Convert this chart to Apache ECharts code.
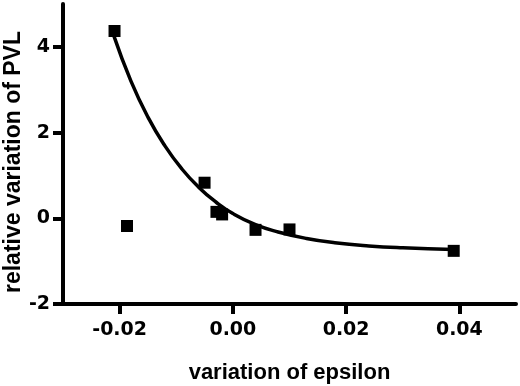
<!DOCTYPE html>
<html>
<head>
<meta charset="utf-8">
<script src="https://cdn.jsdelivr.net/npm/echarts@6/dist/echarts.min.js"></script>
<style>
    html, body { margin: 0; padding: 0; background: #fff; }
    #chart { width: 520px; height: 386px; }
</style>
</head>
<body>
<div id="chart"></div>
<script>
// measured points
var pointX = [-0.0209, -0.0187, -0.0050, -0.0029, -0.0019, 0.0040, 0.0100, 0.0390];
var pointY = [4.37, -0.18, 0.83, 0.15, 0.09, -0.27, -0.26, -0.76];
// fitted curve
var curveX = [-0.021, -0.018, -0.015, -0.012, -0.009, -0.006, -0.003, 0.000, 0.004, 0.008, 0.013, 0.018, 0.024, 0.030, 0.039];
var curveY = [4.25, 3.20, 2.36, 1.69, 1.15, 0.72, 0.38, 0.11, -0.15, -0.32, -0.47, -0.57, -0.645, -0.69, -0.73];
var xTicks = [-0.02, 0.00, 0.02, 0.04];
var yTicks = [-2, 0, 2, 4];

var chart = echarts.init(document.getElementById('chart'));

function pairs(xs, ys) {
    var out = [];
    for (var i = 0; i < xs.length; i++) {
        out.push([xs[i], ys[i]]);
    }
    return out;
}

var axisLine = { show: true, onZero: false, lineStyle: { color: '#000', width: 4 } };
var tickLabel = { color: '#000', fontFamily: 'DejaVu Sans', fontWeight: 'bold', fontSize: 19 };

var option = {
    animation: false,
    grid: { left: 63, right: 4, top: 4, bottom: 82, outerBoundsMode: 'none', containLabel: false },
    xAxis: {
        type: 'value',
        min: -0.03,
        max: 0.05,
        name: 'variation of epsilon',
        nameLocation: 'middle',
        nameGap: 58,
        nameMoveOverlap: false,
        nameTextStyle: { color: '#000', fontFamily: 'Liberation Sans', fontWeight: 'bold', fontSize: 22 },
        axisLine: axisLine,
        axisTick: { show: true, length: 10, customValues: xTicks, lineStyle: { color: '#000', width: 4 } },
        axisLabel: Object.assign({
            margin: 17,
            customValues: xTicks,
            formatter: function (v) { return v.toFixed(2); }
        }, tickLabel),
        splitLine: { show: false }
    },
    yAxis: {
        type: 'value',
        min: -2,
        max: 5,
        name: 'relative variation of PVL',
        nameLocation: 'middle',
        nameGap: 38,
        nameMoveOverlap: false,
        nameTextStyle: { color: '#000', fontFamily: 'Liberation Sans', fontWeight: 'bold', fontSize: 23, padding: [0, 16, 0, 0] },
        axisLine: axisLine,
        axisTick: { show: true, length: 10, customValues: yTicks, lineStyle: { color: '#000', width: 4 } },
        axisLabel: Object.assign({ margin: 13, customValues: yTicks }, tickLabel),
        splitLine: { show: false }
    },
    series: [
        {
            type: 'line',
            data: pairs(curveX, curveY),
            smooth: true,
            showSymbol: false,
            symbol: 'none',
            lineStyle: { color: '#000', width: 3.5 },
            z: 2
        },
        {
            type: 'scatter',
            data: pairs(pointX, pointY),
            symbol: 'rect',
            symbolSize: 12,
            itemStyle: { color: '#000', opacity: 1 },
            z: 3
        }
    ]
};
chart.setOption(option);
</script>
</body>
</html>
